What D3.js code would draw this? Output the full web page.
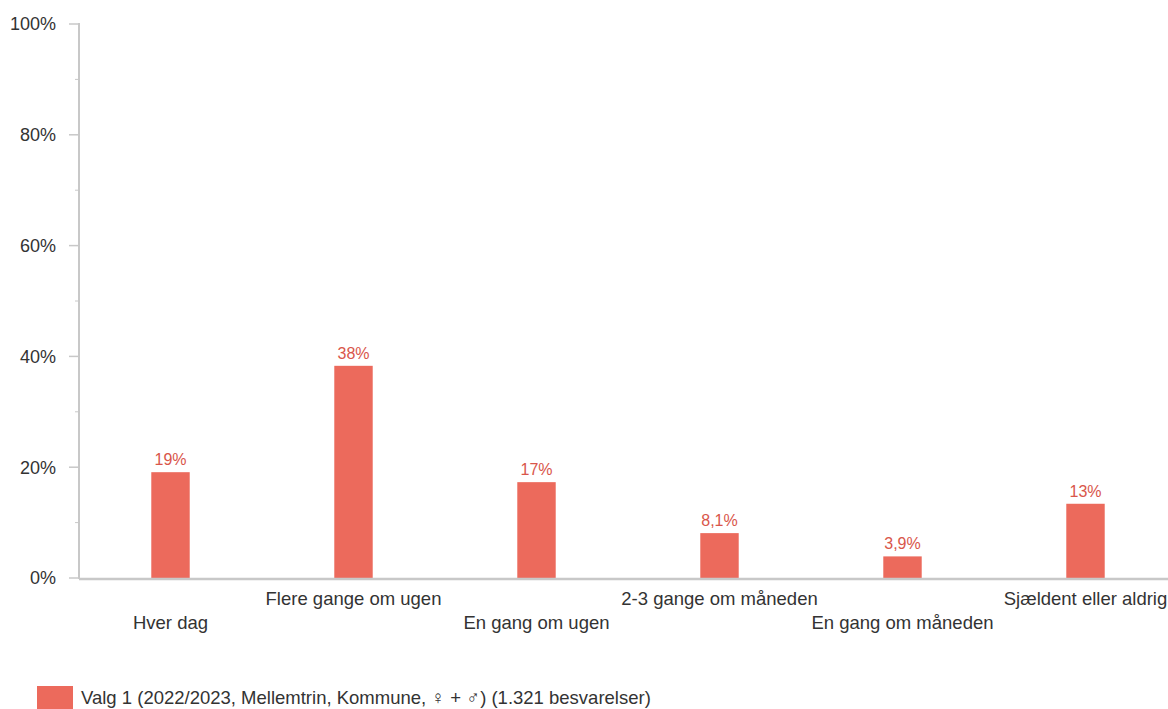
<!DOCTYPE html>
<html><head><meta charset="utf-8">
<script src="https://cdn.jsdelivr.net/npm/d3@7"></script>
<style>body{margin:0;background:#fff}svg{display:block;font-family:Arial,"Liberation Sans",sans-serif}</style>
</head><body><svg id="c" width="1168" height="709"></svg>
<script>
const categories = ["Hver dag","Flere gange om ugen","En gang om ugen","2-3 gange om måneden","En gang om måneden","Sjældent eller aldrig"];
const values = [19.1, 38.3, 17.3, 8.1, 3.9, 13.4];
const valueLabels = ["19%","38%","17%","8,1%","3,9%","13%"];
const yTicks = [0,20,40,60,80,100];
const yMinorTicks = [10,30,50,70,90];
const legendLabel = "Valg 1 (2022/2023, Mellemtrin, Kommune, ♀ + ♂) (1.321 besvarelser)";

const svg = d3.select("#c");
const x = d3.scaleBand().domain(categories).range([79, 1177]).paddingInner(0.79).paddingOuter(0.395);
const y = d3.scaleLinear().domain([0,100]).range([578, 24]);
const axisColor = "#c8c8c8";
const barColor = "#ec6a5c";

// y axis
const g = svg.append("g");
g.append("line").attr("x1",79).attr("x2",79).attr("y1",y(100)-1).attr("y2",y(0)+1)
  .attr("stroke",axisColor).attr("stroke-width",2);
g.selectAll(".maj").data(yTicks).enter().append("line")
  .attr("x1",69).attr("x2",79).attr("y1",d=>y(d)).attr("y2",d=>y(d))
  .attr("stroke",axisColor).attr("stroke-width",1.5);
g.selectAll(".min").data(yMinorTicks).enter().append("line")
  .attr("x1",75).attr("x2",79).attr("y1",d=>y(d)).attr("y2",d=>y(d))
  .attr("stroke",axisColor).attr("stroke-width",1);
g.selectAll(".tl").data(yTicks).enter().append("text")
  .attr("x",56).attr("y",d=>y(d)).attr("dy","0.35em").attr("text-anchor","end")
  .attr("font-size",18).attr("fill","#333").text(d=>d+"%");

// bars
svg.selectAll(".bar").data(values).enter().append("rect")
  .attr("x",(d,i)=>x(categories[i])).attr("width",x.bandwidth())
  .attr("y",d=>y(d)).attr("height",d=>y(0)-y(d)).attr("fill",barColor);
svg.selectAll(".vl").data(values).enter().append("text")
  .attr("x",(d,i)=>x(categories[i])+x.bandwidth()/2).attr("y",d=>y(d)-7)
  .attr("text-anchor","middle").attr("font-size",16).attr("fill","#d9564a")
  .text((d,i)=>valueLabels[i]);

// x axis line
svg.append("line").attr("x1",79).attr("x2",1168).attr("y1",579).attr("y2",579)
  .attr("stroke",axisColor).attr("stroke-width",2.5);

// x labels staggered
svg.selectAll(".xl").data(categories).enter().append("text")
  .attr("x",d=>x(d)+x.bandwidth()/2).attr("y",(d,i)=> i%2===0 ? 629 : 605)
  .attr("text-anchor","middle").attr("font-size",18.5).attr("fill","#333").text(d=>d);

// legend
svg.append("rect").attr("x",37).attr("y",686).attr("width",36).attr("height",23).attr("fill",barColor);
svg.append("text").attr("x",81).attr("y",698).attr("dy","0.35em").attr("font-size",18.5).attr("fill","#333").text(legendLabel);
</script></body></html>
